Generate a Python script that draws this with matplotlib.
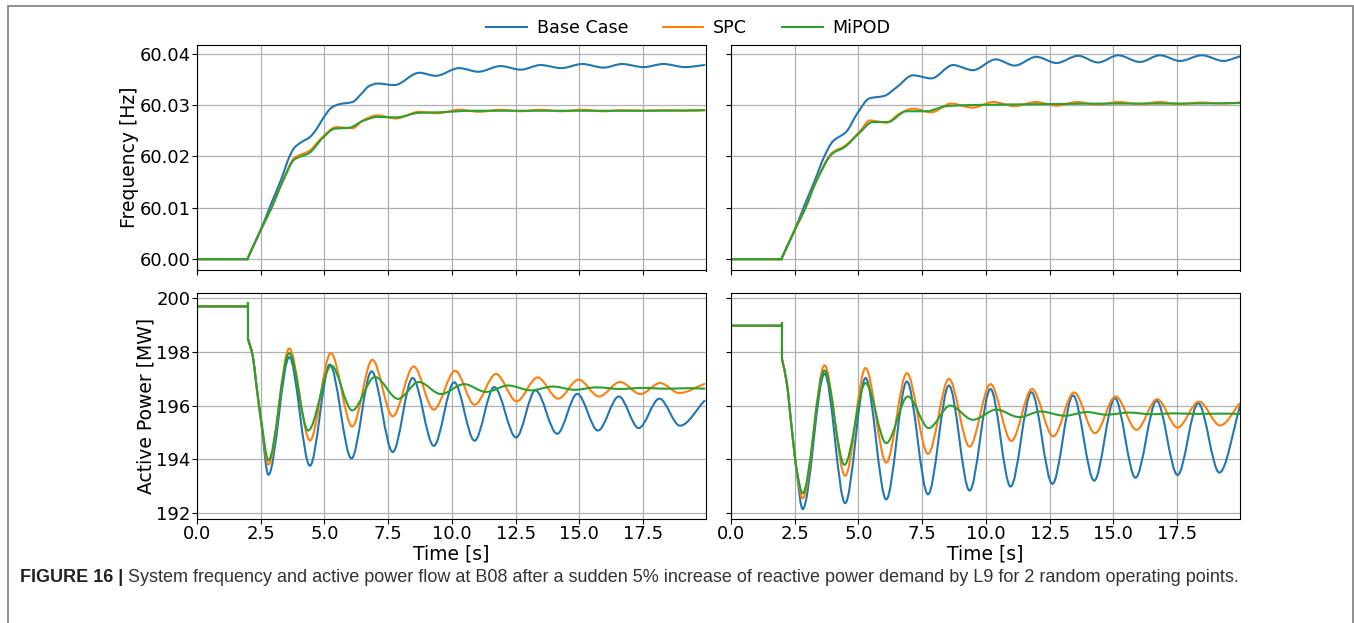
import numpy as np
import matplotlib
matplotlib.use("Agg")
import matplotlib.pyplot as plt
from matplotlib.path import Path
from matplotlib.patches import PathPatch, Rectangle
from matplotlib.lines import Line2D
from matplotlib.ticker import MultipleLocator

# ---- data (time in s) ----
series_names = ["Base Case", "SPC", "MiPOD"]
colors = ["#1f77b4", "#ff7f0e", "#2ca02c"]

# frequency, operating point A (left)
freq_a_base_t = [0, 2.0, 2.0, 2.5, 2.9, 3.3, 3.63, 3.82, 4.1, 4.41, 4.7, 4.93, 5.3, 5.6, 6.1, 6.45, 6.75,
                 7.08, 7.74, 8.72, 9.37, 10.28, 11.04, 11.91, 12.70, 13.48, 14.30, 15.11, 15.96, 16.67,
                 17.52, 18.30, 19.15, 19.91]
freq_a_base = [60.0, 60.0, 60.0003, 60.0057, 60.0107, 60.0155, 60.0200, 60.0217, 60.0228, 60.0237, 60.0254,
               60.0273, 60.0296, 60.0302, 60.0306, 60.0322, 60.0337, 60.0342, 60.0339, 60.0363, 60.0357,
               60.0372, 60.0365, 60.0376, 60.0369, 60.0378, 60.0372, 60.0380, 60.0373, 60.0380, 60.0374,
               60.0380, 60.0374, 60.0378]
freq_a_spc_t = [0, 2.0, 2.0, 2.5, 2.9, 3.37, 3.82, 4.41, 4.93, 5.46, 6.11, 6.5, 7.08, 7.80, 8.72, 9.43,
                10.28, 11.07, 11.91, 12.70, 13.48, 14.30, 15.11, 15.96, 16.67, 17.52, 18.30, 19.15, 19.91]
freq_a_spc = [60.0, 60.0, 60.0003, 60.0057, 60.0098, 60.0153, 60.0197, 60.0211, 60.0238, 60.0257, 60.0255,
              60.0270, 60.0280, 60.0274, 60.0287, 60.0284, 60.0291, 60.0287, 60.0291, 60.0288, 60.0291,
              60.0288, 60.0291, 60.0288, 60.0290, 60.0289, 60.0290, 60.0289, 60.0290]
freq_a_mipod_t = [0, 2.0, 2.0, 2.5, 2.9, 3.37, 3.82, 4.41, 4.93, 5.39, 5.98, 6.5, 7.08, 7.80, 8.72, 9.50,
                  10.80, 12.5, 15.0, 17.5, 19.91]
freq_a_mipod = [60.0, 60.0, 60.0003, 60.0057, 60.0097, 60.0152, 60.0194, 60.0207, 60.0236, 60.0254, 60.0256,
                60.0269, 60.0277, 60.0276, 60.0285, 60.0286, 60.0289, 60.0289, 60.0289, 60.0289, 60.0290]

# frequency, operating point B (right)
freq_b_base_t = [0, 2.0, 2.0, 2.5, 2.9, 3.27, 3.66, 3.99, 4.52, 4.97, 5.43, 6.02, 6.48, 7.14, 7.86, 8.71,
                 9.49, 10.39, 11.13, 11.98, 12.77, 13.62, 14.40, 15.19, 16.04, 16.83, 17.62, 18.47, 19.32,
                 19.97]
freq_b_base = [60.0, 60.0, 60.0003, 60.0057, 60.0107, 60.0151, 60.0200, 60.0229, 60.0248, 60.0285, 60.0313,
               60.0318, 60.0334, 60.0358, 60.0352, 60.0378, 60.0368, 60.0389, 60.0377, 60.0394, 60.0382,
               60.0396, 60.0383, 60.0397, 60.0384, 60.0397, 60.0386, 60.0397, 60.0386, 60.0395]
freq_b_spc_t = [0, 2.0, 2.0, 2.5, 2.9, 3.34, 3.99, 4.45, 5.04, 5.45, 6.1, 6.6, 7.14, 7.86, 8.64, 9.49,
                10.28, 11.13, 11.96, 12.77, 13.57, 14.38, 15.2, 16.0, 16.82, 17.62, 18.45, 19.3, 19.97]
freq_b_spc = [60.0, 60.0, 60.0003, 60.0057, 60.0098, 60.0152, 60.0208, 60.0220, 60.0248, 60.0270, 60.0266,
              60.0283, 60.0293, 60.0286, 60.0303, 60.0295, 60.0306, 60.0298, 60.0306, 60.0299, 60.0306,
              60.0301, 60.0306, 60.0302, 60.0306, 60.0302, 60.0305, 60.0303, 60.0305]
freq_b_mipod_t = [0, 2.0, 2.0, 2.5, 2.9, 3.34, 3.99, 4.45, 5.04, 5.56, 6.15, 6.88, 7.66, 8.45, 9.36, 10.67,
                  12.5, 15.0, 17.5, 19.97]
freq_b_mipod = [60.0, 60.0, 60.0003, 60.0057, 60.0097, 60.0151, 60.0206, 60.0218, 60.0246, 60.0267, 60.0267,
                60.0288, 60.0288, 60.0298, 60.0300, 60.0301, 60.0302, 60.0303, 60.0303, 60.0304]

# active power at B08, operating point A (left)
power_a_base_t = [0, 2.0, 2.0, 2.0, 2.19, 2.32, 2.52, 2.80, 3.62, 4.43, 5.21, 6.06, 6.85, 7.68, 8.46, 9.29,
                  10.09, 10.89, 11.66, 12.52, 13.28, 14.13, 14.92, 15.73, 16.55, 17.33, 18.14, 18.95, 19.91]
power_a_base = [199.70, 199.70, 199.83, 198.49, 197.84, 196.84, 195.35, 193.42, 197.81, 193.76, 197.53,
                194.03, 197.28, 194.27, 197.03, 194.50, 196.87, 194.69, 196.69, 194.81, 196.57, 194.95,
                196.44, 195.07, 196.34, 195.16, 196.26, 195.25, 196.18]
power_a_spc_t = [0, 2.0, 2.0, 2.0, 2.19, 2.32, 2.52, 2.80, 3.62, 4.43, 5.25, 6.09, 6.88, 7.68, 8.50, 9.29,
                 10.13, 10.89, 11.73, 12.54, 13.36, 14.17, 14.97, 15.77, 16.60, 17.40, 18.17, 18.92, 19.91]
power_a_spc = [199.70, 199.70, 199.83, 198.49, 197.84, 196.84, 195.40, 193.80, 198.13, 194.70, 197.96,
               195.22, 197.71, 195.60, 197.46, 195.85, 197.30, 196.03, 197.18, 196.16, 197.05, 196.26,
               196.97, 196.34, 196.88, 196.43, 196.84, 196.47, 196.81]
power_a_mipod_t = [0, 2.0, 2.0, 2.0, 2.19, 2.32, 2.52, 2.80, 3.62, 4.36, 5.27, 6.09, 6.98, 7.89, 8.70,
                   9.57, 10.48, 11.34, 12.21, 13.10, 13.97, 14.82, 15.67, 16.6, 17.5, 18.4, 19.3, 19.91]
power_a_mipod = [199.70, 199.70, 199.83, 198.49, 197.84, 196.84, 195.45, 193.96, 197.96, 195.07, 197.49,
                 195.82, 197.07, 196.25, 196.88, 196.43, 196.80, 196.51, 196.75, 196.57, 196.71, 196.59,
                 196.68, 196.62, 196.66, 196.63, 196.65, 196.63]

# active power at B08, operating point B (right)
power_b_base_t = [0, 2.0, 2.0, 2.0, 2.18, 2.4, 2.58, 2.81, 3.67, 4.48, 5.28, 6.09, 6.90, 7.73, 8.55, 9.36,
                  10.18, 10.97, 11.79, 12.61, 13.42, 14.25, 15.06, 15.87, 16.70, 17.52, 18.33, 19.16, 19.97]
power_b_base = [198.98, 198.98, 199.08, 197.74, 196.9, 195.0, 193.5, 192.14, 197.19, 192.36, 197.03,
                192.50, 196.90, 192.69, 196.75, 192.83, 196.62, 192.98, 196.50, 193.08, 196.38, 193.20,
                196.28, 193.31, 196.18, 193.41, 196.09, 193.50, 195.97]
power_b_spc_t = [0, 2.0, 2.0, 2.0, 2.18, 2.4, 2.58, 2.81, 3.67, 4.48, 5.28, 6.09, 6.90, 7.73, 8.55, 9.36,
                 10.18, 11.00, 11.81, 12.64, 13.46, 14.28, 15.09, 15.91, 16.72, 17.52, 18.36, 19.19, 19.97]
power_b_spc = [198.98, 198.98, 199.08, 197.74, 196.9, 195.0, 193.55, 192.54, 197.50, 193.38, 197.40,
               193.87, 197.21, 194.20, 197.00, 194.47, 196.80, 194.68, 196.62, 194.85, 196.49, 194.97,
               196.34, 195.10, 196.24, 195.18, 196.15, 195.26, 196.09]
power_b_mipod_t = [0, 2.0, 2.0, 2.0, 2.18, 2.4, 2.58, 2.81, 3.67, 4.45, 5.28, 6.09, 6.94, 7.76, 8.60, 9.49,
                   10.41, 11.30, 12.15, 13.10, 13.95, 14.73, 15.6, 16.5, 17.4, 18.3, 19.2, 19.97]
power_b_mipod = [198.98, 198.98, 199.08, 197.74, 196.9, 195.0, 193.6, 192.73, 197.31, 193.79, 196.84,
                 194.60, 196.34, 195.16, 196.00, 195.47, 195.85, 195.57, 195.78, 195.62, 195.76, 195.66,
                 195.74, 195.68, 195.71, 195.69, 195.70, 195.69]

caption_bold = "FIGURE 16 |"
caption_text = (" System frequency and active power flow at B08 after a sudden 5% increase of reactive "
                "power demand by L9 for 2 random operating points.")


def pchip_slopes(t, y):
    h = np.diff(t)
    d = np.diff(y) / h
    m = np.zeros_like(y)
    m[0], m[-1] = d[0], d[-1]
    for k in range(1, len(y) - 1):
        if d[k - 1] * d[k] > 0:
            w1 = 2 * h[k] + h[k - 1]
            w2 = h[k] + 2 * h[k - 1]
            m[k] = (w1 + w2) / (w1 / d[k - 1] + w2 / d[k])
    return m


def smooth_path(t, y):
    # smooth bezier through the read points, straight jumps where time repeats
    t = np.asarray(t, float)
    y = np.asarray(y, float)
    cuts = list(np.where(np.diff(t) == 0)[0] + 1)
    starts = [0] + cuts
    ends = cuts + [len(t)]
    verts = [(t[0], y[0])]
    codes = [Path.MOVETO]
    for s, e in zip(starts, ends):
        if s > 0:
            verts.append((t[s], y[s]))
            codes.append(Path.LINETO)
        tt, yy = t[s:e], y[s:e]
        if len(tt) < 2:
            continue
        m = pchip_slopes(tt, yy)
        for k in range(len(tt) - 1):
            h = tt[k + 1] - tt[k]
            verts += [(tt[k] + h / 3, yy[k] + m[k] * h / 3),
                      (tt[k + 1] - h / 3, yy[k + 1] - m[k + 1] * h / 3),
                      (tt[k + 1], yy[k + 1])]
            codes += [Path.CURVE4] * 3
    return Path(verts, codes)


def draw_series(ax, pairs):
    for (t, y), c in zip(pairs, colors):
        ax.add_patch(PathPatch(smooth_path(t, y), fill=False, edgecolor=c, lw=1.5,
                               joinstyle="round", capstyle="round"))


W, H = 1354, 623
fig = plt.figure(figsize=(W / 100, H / 100), dpi=100)

axl, axw, axr = 197 / W, 509 / W, 731 / W
top_b, bot_b, ah = 1 - 270.5 / H, 1 - 519 / H, 226 / H

ax_fa = fig.add_axes([axl, top_b, axw, ah])
ax_fb = fig.add_axes([axr, top_b, axw, ah], sharex=ax_fa, sharey=ax_fa)
ax_pa = fig.add_axes([axl, bot_b, axw, ah], sharex=ax_fa)
ax_pb = fig.add_axes([axr, bot_b, axw, ah], sharex=ax_fa, sharey=ax_pa)

draw_series(ax_fa, [(freq_a_base_t, freq_a_base), (freq_a_spc_t, freq_a_spc), (freq_a_mipod_t, freq_a_mipod)])
draw_series(ax_fb, [(freq_b_base_t, freq_b_base), (freq_b_spc_t, freq_b_spc), (freq_b_mipod_t, freq_b_mipod)])
draw_series(ax_pa, [(power_a_base_t, power_a_base), (power_a_spc_t, power_a_spc),
                    (power_a_mipod_t, power_a_mipod)])
draw_series(ax_pb, [(power_b_base_t, power_b_base), (power_b_spc_t, power_b_spc),
                    (power_b_mipod_t, power_b_mipod)])

ax_fa.set_xlim(0, 19.97)
ax_fa.set_ylim(59.9978, 60.0418)
ax_pa.set_ylim(191.77, 200.20)
ax_fa.xaxis.set_major_locator(MultipleLocator(2.5))
ax_fa.yaxis.set_major_locator(MultipleLocator(0.01))
ax_pa.yaxis.set_major_locator(MultipleLocator(2))
ax_fa.yaxis.set_major_formatter(plt.FormatStrFormatter("%.2f"))
ax_pa.xaxis.set_major_formatter(plt.FormatStrFormatter("%.1f"))

for ax in (ax_fa, ax_fb, ax_pa, ax_pb):
    ax.grid(True, color="#b0b0b0", lw=0.9)
    ax.set_axisbelow(True)
    ax.tick_params(labelsize=13, pad=1)
ax_fa.tick_params(labelbottom=False)
ax_fb.tick_params(labelbottom=False, labelleft=False)
ax_pb.tick_params(labelleft=False)

ax_fa.set_ylabel("Frequency [Hz]", fontsize=13.5, labelpad=0.5)
ax_pa.set_ylabel("Active Power [MW]", fontsize=13.5, labelpad=0.5)
ax_pa.set_xlabel("Time [s]", fontsize=13.5, labelpad=1)
ax_pb.set_xlabel("Time [s]", fontsize=13.5, labelpad=1)

handles = [Line2D([], [], color=c, lw=1.5) for c in colors]
fig.legend(handles, series_names, loc="center", bbox_to_anchor=(688.5 / W, 1 - 28 / H), ncol=3,
           frameon=False, fontsize=12.6, handlelength=2.3, handletextpad=0.57, columnspacing=2.0)

cap = fig.text(20 / W, 1 - 578 / H, caption_bold, fontsize=13, weight="bold", color="#222222",
               family="Liberation Sans", va="center")
ax_fa.annotate(caption_text, xy=(1, 0.5), xycoords=cap, va="center", ha="left", fontsize=13,
               color="#333333", family="Liberation Sans", annotation_clip=False)

# frame around the whole figure, open at the bottom edge
fig.add_artist(Rectangle((8 / W, -0.05), 1344.5 / W, 1.05 - 6 / H, transform=fig.transFigure,
                         fill=False, edgecolor="#888888", lw=1.3))

fig.savefig("out.png", dpi=100)
